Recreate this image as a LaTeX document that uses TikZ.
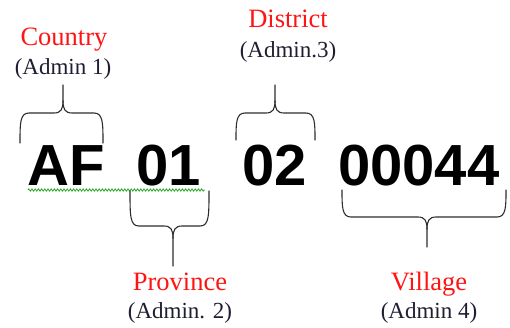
\documentclass[tikz,border=0pt]{standalone}
\usepackage{fontspec}
\setmainfont{Liberation Serif}
\newfontfamily\codefont{Liberation Sans}
\usetikzlibrary{decorations.pathmorphing}
\definecolor{lblred}{RGB}{255,20,20}
\definecolor{admtxt}{RGB}{30,30,50}
\definecolor{wavegreen}{RGB}{40,170,40}
\definecolor{bracecol}{RGB}{45,45,45}
\tikzset{
  lbl/.style={anchor=base, text=lblred, font=\fontsize{26.5}{26.5}\selectfont, inner sep=0pt},
  adm/.style={anchor=base, text=admtxt, font=\fontsize{23}{23}\selectfont, inner sep=0pt},
  code/.style={anchor=base west, font=\codefont\bfseries\fontsize{58}{58}\selectfont, inner sep=0pt},
  bracestroke/.style={draw=bracecol, line width=1.1pt, line cap=round, line join=round},
  wavy/.style={draw=wavegreen, line width=0.8pt, decorate, decoration={zigzag, segment length=3.2pt, amplitude=1.1pt}}
}
% #1 x1, #2 x2, #3 y of ends, #4 y of bar, #5 x of tip, #6 y of tip, #7 sign (+1 tip up (ends below), -1 tip down)
\newcommand{\mybrace}[7]{%
  \draw[bracestroke] (#1,#3) .. controls (#1,{#4+#7*10}) and (#1,#4) .. ({#1+9},#4)
    -- ({#5-9},#4) .. controls ({#5-2},#4) and (#5,{#4-#7*4}) .. (#5,{#4-#7*12}) -- (#5,#6);
  \draw[bracestroke] (#2,#3) .. controls (#2,{#4+#7*10}) and (#2,#4) .. ({#2-9},#4)
    -- ({#5+9},#4) .. controls ({#5+2},#4) and (#5,{#4-#7*4}) .. (#5,{#4-#7*12});
}
\begin{document}
\begin{tikzpicture}[x=1pt,y=-1pt]
\useasboundingbox (0,0) rectangle (510,327);
% labels
\node[lbl] (country) at (64,45) {Country};
\node[adm] (adm1) at (63,74) {(Admin 1)};
\node[lbl] (district) at (288,27) {District};
\node[adm] (adm3) at (288,57) {(Admin.3)};
\node[lbl] (province) at (180,290) {Province};
\node[adm] (adm2) at (180,318) {(Admin. 2)};
\node[lbl] (village) at (429,290) {Village};
\node[adm] (adm4) at (429,318) {(Admin 4)};
% codes
\node[code] (af) at (27,185) {AF};
\node[code] (c01) at (136,185) {01};
\node[code] (c02) at (242,185) {02};
\node[code] (c00044) at (338,185) {00044};
% green wavy underline
\draw[wavy] (28,190) -- (205,190);
% braces
\mybrace{20}{103}{143}{113}{63}{85}{1}
\mybrace{236}{315}{140}{113}{275}{85}{1}
\mybrace{130}{209}{191}{226}{173}{266}{-1}
\mybrace{342}{506}{190}{217}{427}{247}{-1}
\end{tikzpicture}
\end{document}
